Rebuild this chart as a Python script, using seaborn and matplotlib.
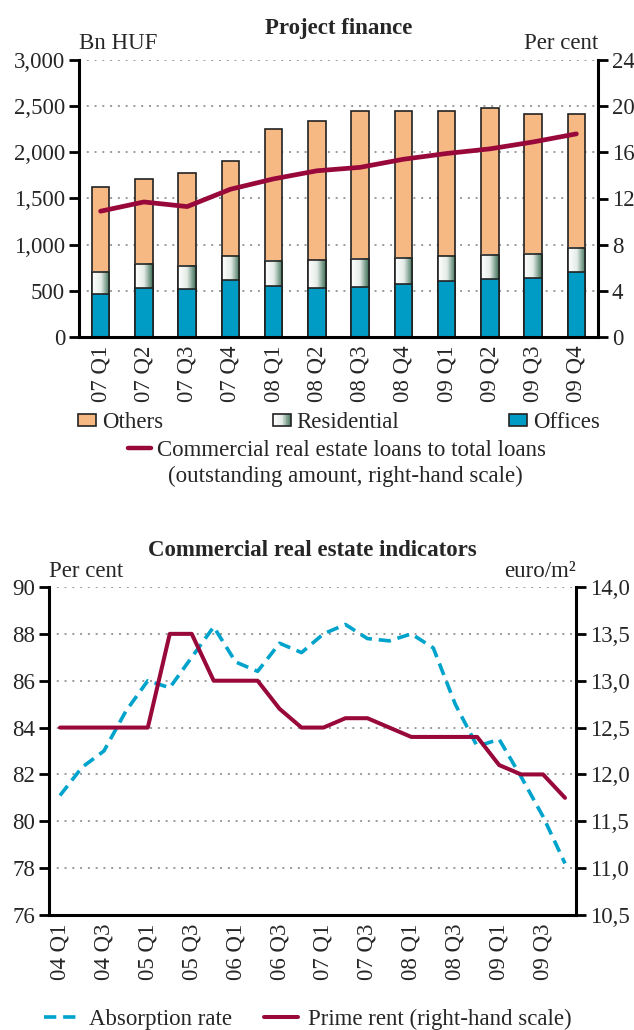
import numpy as np
import pandas as pd
import matplotlib
matplotlib.use("Agg")
import matplotlib.pyplot as plt
import seaborn as sns
from matplotlib.patches import Patch, Rectangle
from matplotlib.lines import Line2D
from matplotlib.colors import LinearSegmentedColormap
from matplotlib.legend_handler import HandlerBase
from matplotlib.ticker import FuncFormatter

# --- data: project finance (Bn HUF, right axis in per cent)
pf_quarters = ['07 Q1', '07 Q2', '07 Q3', '07 Q4', '08 Q1', '08 Q2',
               '08 Q3', '08 Q4', '09 Q1', '09 Q2', '09 Q3', '09 Q4']
offices = [467, 533, 525, 616, 551, 529, 540, 576, 609, 623, 641, 703]
residential = [240, 260, 247, 257, 275, 301, 308, 283, 268, 268, 261, 261]
others = [920, 921, 1000, 1033, 1428, 1511, 1605, 1594, 1572, 1584, 1515, 1456]
cre_ratio = [10.9, 11.7, 11.3, 12.8, 13.7, 14.4, 14.7, 15.4, 15.9, 16.3, 16.9, 17.6]

# --- data: commercial real estate indicators
cre_quarters = [f'{y:02d} Q{q}' for y in range(4, 10) for q in range(1, 5)]
absorption = [81.1, 82.3, 83.0, 84.7, 86.0, 85.7, 87.0, 88.3, 86.8, 86.4, 87.6, 87.2,
              88.0, 88.4, 87.8, 87.7, 88.0, 87.4, 85.0, 83.2, 83.5, 81.9, 80.2, 78.2]
prime_rent = [12.5, 12.5, 12.5, 12.5, 12.5, 13.5, 13.5, 13.0, 13.0, 13.0, 12.7, 12.5,
              12.5, 12.6, 12.6, 12.5, 12.4, 12.4, 12.4, 12.4, 12.1, 12.0, 12.0, 11.75]

C_OTHERS = '#f7b983'
C_OFFICES = '#009cc5'
C_RED = '#98083a'
C_CYAN = '#00a3cc'
res_cmap = LinearSegmentedColormap.from_list('res', ['#ffffff', '#e4ece7', '#3d7057'])

sns.set_theme(style='white')
plt.rcParams['font.family'] = ['Liberation Serif', 'DejaVu Serif']
FS = 16.5
plt.rcParams['font.size'] = FS
plt.rcParams['axes.linewidth'] = 2.2
TFS = 16.5

pf = pd.DataFrame({'quarter': pf_quarters, 'offices': offices,
                   'residential': residential, 'others': others, 'ratio': cre_ratio})
pf['res_top'] = pf['offices'] + pf['residential']
pf['total'] = pf['res_top'] + pf['others']
pf['pos'] = np.arange(len(pf))

cre = pd.DataFrame({'quarter': cre_quarters, 'absorption': absorption, 'rent': prime_rent})
cre['pos'] = np.arange(len(cre))

fig = plt.figure(figsize=(6.34, 10.3), dpi=100)
ax = fig.add_axes([79 / 634, 1 - 337 / 1030, (598 - 79) / 634, 277 / 1030])
ax3 = fig.add_axes([49 / 634, 1 - 915 / 1030, (576 - 49) / 634, 328 / 1030])


def style_axes(a, n):
    for s in ['left', 'right', 'bottom']:
        a.spines[s].set_visible(True)
        a.spines[s].set_color('black')
        a.spines[s].set_linewidth(2.2)
    a.spines['top'].set_visible(False)
    a.set_xticks(np.arange(n))
    a.set_xticks(np.arange(-0.5, n), minor=True)
    a.tick_params(axis='x', which='major', length=0, pad=6, labelsize=FS, labelrotation=90)
    a.tick_params(axis='x', which='minor', length=7, width=2, color='black', direction='out')
    a.tick_params(axis='y', which='major', length=7, width=2, color='black',
                  direction='out', labelsize=FS, pad=3, left=True)
    a.yaxis.grid(True, color='#9a9a9a', linestyle=(0, (1, 3)), linewidth=1.4)
    a.xaxis.grid(False)
    a.set_axisbelow(True)
    a.set_xlabel('')
    a.set_ylabel('')


# ---------------- top chart ----------------
sns.barplot(data=pf, x='quarter', y='total', color=C_OTHERS, width=0.4,
            edgecolor='#222222', linewidth=1.2, saturation=1, ax=ax, zorder=2)
sns.barplot(data=pf, x='quarter', y='res_top', color='white', width=0.4,
            edgecolor='none', linewidth=0, saturation=1, ax=ax, zorder=2)
grad = np.linspace(0, 1, 64).reshape(1, -1)
for p in ax.containers[1]:
    x0, y0 = p.get_x(), p.get_y()
    w, h = p.get_width(), p.get_height()
    ax.imshow(grad, cmap=res_cmap, aspect='auto', extent=[x0, x0 + w, y0, y0 + h],
              zorder=2.1, clip_path=p, interpolation='bilinear')
    ax.add_patch(Rectangle((x0, y0), w, h, facecolor='none', edgecolor='#222222',
                           linewidth=1.2, zorder=2.2))
sns.barplot(data=pf, x='quarter', y='offices', color=C_OFFICES, width=0.4,
            edgecolor='#222222', linewidth=1.2, saturation=1, ax=ax, zorder=2.3)
ax.set_xlim(-0.5, len(pf) - 0.5)
ax.set_ylim(0, 3000)
ax.set_yticks(np.arange(0, 3001, 500))
ax.yaxis.set_major_formatter(FuncFormatter(lambda v, _: f'{int(v):,}'))
style_axes(ax, len(pf))
ax.set_xticklabels(pf_quarters)

ax2 = ax.twinx()
sns.lineplot(data=pf, x='pos', y='ratio', color=C_RED, linewidth=3.4, ax=ax2)
ax2.set_ylim(0, 24)
ax2.set_yticks(np.arange(0, 25, 4))
ax2.set_ylabel('')
for s in ['left', 'right', 'bottom', 'top']:
    ax2.spines[s].set_visible(False)
ax2.tick_params(axis='y', length=7, width=2, color='black', direction='out',
                labelsize=FS, pad=3, right=True)
ax2.grid(False)

ax.set_title('Project finance', fontsize=TFS, fontweight='bold', pad=19)
ax.text(0.0, 1.02, 'Bn HUF', transform=ax.transAxes, ha='left', va='bottom', fontsize=FS)
ax.text(1.0, 1.02, 'Per cent', transform=ax.transAxes, ha='right', va='bottom', fontsize=FS)


class GradientHandler(HandlerBase):
    def create_artists(self, legend, orig_handle, xdescent, ydescent, width, height, fontsize, trans):
        arts = []
        n = 24
        for k in range(n):
            arts.append(Rectangle((-xdescent + width * k / n, -ydescent), width / n, height,
                                  facecolor=res_cmap((k + 0.5) / n), edgecolor='none',
                                  transform=trans))
        arts.append(Rectangle((-xdescent, -ydescent), width, height, facecolor='none',
                              edgecolor='#222222', linewidth=1.2, transform=trans))
        return arts


h_oth = Patch(facecolor=C_OTHERS, edgecolor='#222222', linewidth=1.2)
h_res = Patch(facecolor='#b5c9bd', edgecolor='#222222', linewidth=1.2)
h_off = Patch(facecolor=C_OFFICES, edgecolor='#222222', linewidth=1.2)
fig.legend(handles=[h_oth, h_res, h_off], labels=['Others', 'Residential', 'Offices'],
           ncol=3, mode='expand', loc='center',
           bbox_to_anchor=(78 / 634, 1 - 423 / 1030, 522 / 634, 0),
           frameon=False, fontsize=FS, handlelength=0.8, handleheight=0.45,
           handletextpad=0.25, borderaxespad=0, borderpad=0,
           handler_map={h_res: GradientHandler()})
fig.legend(handles=[Line2D([], [], color=C_RED, linewidth=3.2)],
           labels=['Commercial real estate loans to total loans'],
           loc='center', bbox_to_anchor=(337 / 634, 1 - 450 / 1030),
           frameon=False, fontsize=FS, handlelength=1.0, handletextpad=0.3,
           borderaxespad=0, borderpad=0)
fig.text(345 / 634, 1 - 476 / 1030, '(outstanding amount, right-hand scale)',
         ha='center', va='center', fontsize=FS)

# ---------------- bottom chart ----------------
sns.lineplot(data=cre, x='pos', y='absorption', color=C_CYAN, linewidth=2.6,
             linestyle=(0, (3.4, 1.9)), ax=ax3)
ax3.set_xlim(-0.5, len(cre) - 0.5)
ax3.set_ylim(76, 90)
ax3.set_yticks(np.arange(76, 91, 2))
style_axes(ax3, len(cre))
ax3.set_xticks(np.arange(0, len(cre), 2))
ax3.set_xticklabels(cre_quarters[::2])

ax4 = ax3.twinx()
sns.lineplot(data=cre, x='pos', y='rent', color=C_RED, linewidth=2.9, ax=ax4)
ax4.set_ylim(10.5, 14.0)
ax4.set_yticks(np.arange(10.5, 14.01, 0.5))
ax4.yaxis.set_major_formatter(FuncFormatter(lambda v, _: f'{v:.1f}'.replace('.', ',')))
ax4.set_ylabel('')
for s in ['left', 'right', 'bottom', 'top']:
    ax4.spines[s].set_visible(False)
ax4.tick_params(axis='y', length=7, width=2, color='black', direction='out',
                labelsize=FS, pad=3, right=True)
ax4.grid(False)

ax3.set_title('Commercial real estate indicators', fontsize=TFS, fontweight='bold', pad=22)
ax3.text(0.0, 1.015, 'Per cent', transform=ax3.transAxes, ha='left', va='bottom', fontsize=FS)
ax3.text(1.0, 1.015, 'euro/m²', transform=ax3.transAxes, ha='right', va='bottom', fontsize=FS)

fig.legend(handles=[Line2D([], [], color=C_CYAN, linewidth=2.6, linestyle=(0, (3.4, 1.9))),
                    Line2D([], [], color=C_RED, linewidth=2.9)],
           labels=['Absorption rate', 'Prime rent (right-hand scale)'],
           ncol=2, loc='center', bbox_to_anchor=(308 / 634, 1 - 1019 / 1030),
           frameon=False, fontsize=FS, handlelength=1.5, handletextpad=0.45,
           columnspacing=1.4, borderaxespad=0, borderpad=0)

fig.savefig('out.png', dpi=100)
